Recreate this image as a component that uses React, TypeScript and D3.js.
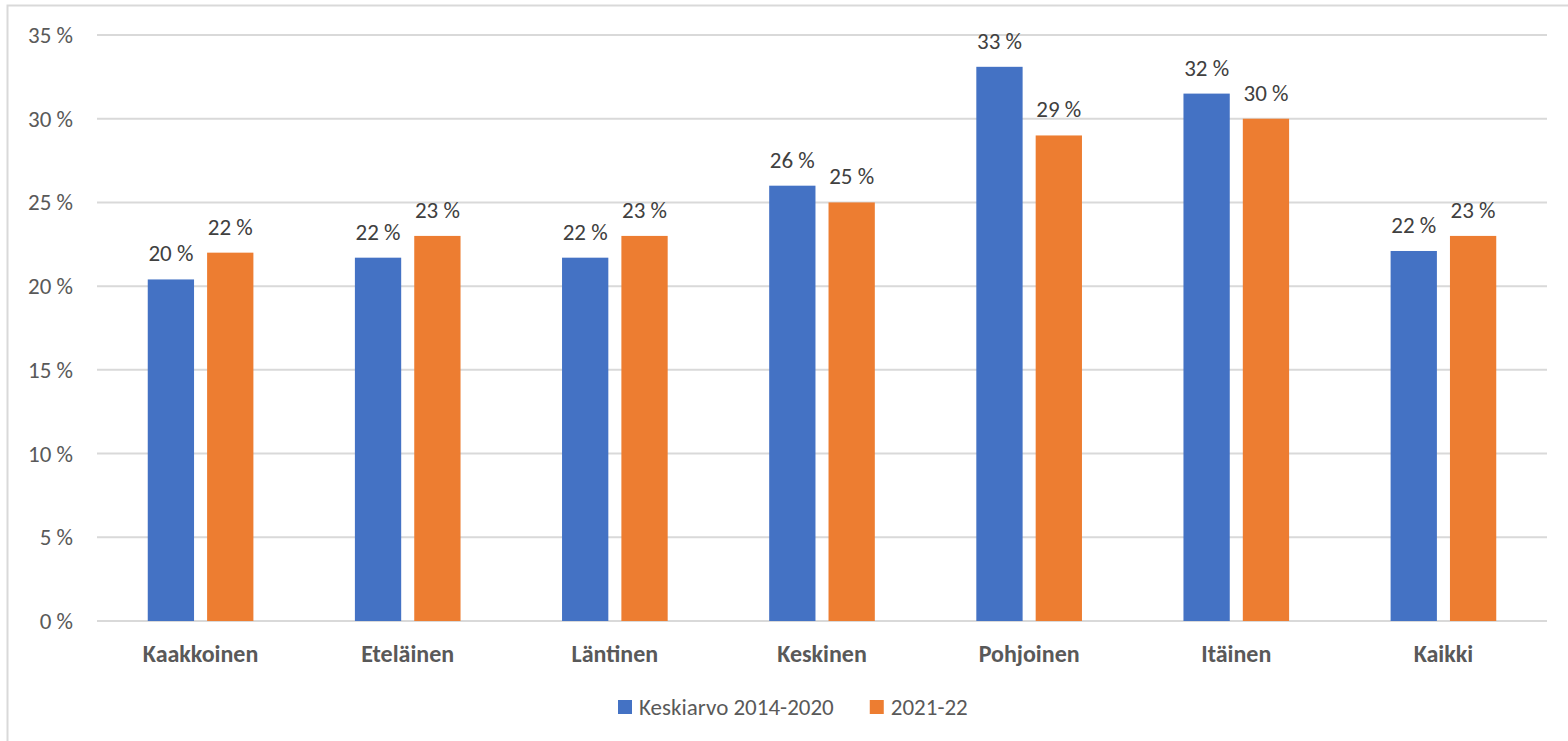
import React, { useEffect, useRef } from 'react';
import * as d3 from 'd3';

const regions = ['Kaakkoinen', 'Eteläinen', 'Läntinen', 'Keskinen', 'Pohjoinen', 'Itäinen', 'Kaikki'];
const seriesNames = ['Keskiarvo 2014-2020', '2021-22'];
const average2014to2020 = [20.4, 21.7, 21.7, 26.0, 33.1, 31.5, 22.1];
const year2021to22 = [22.0, 23.0, 23.0, 25.0, 29.0, 30.0, 23.0];
const yTicks = [0, 5, 10, 15, 20, 25, 30, 35];
const colors = ['#4472C4', '#ED7D31'];

const FONT = 'Calibri, Carlito, "Open Sans", sans-serif';

const App: React.FC = () => {
    const ref = useRef<SVGSVGElement>(null);

    useEffect(() => {
        if (!ref.current) return;
        const svg = d3.select(ref.current);
        svg.selectAll('*').remove();

        const W = 1568, H = 741;
        const left = 97, right = 1547, top = 35, bottom = 621;

        // chart frame
        svg.append('rect')
            .attr('x', 7.5).attr('y', 5.5)
            .attr('width', W).attr('height', H)
            .attr('fill', '#fff')
            .attr('stroke', '#D9D9D9')
            .attr('stroke-width', 2);

        const y = d3.scaleLinear().domain([0, 35]).range([bottom, top]);
        const x0 = d3.scaleBand<string>()
            .domain(regions)
            .range([left, right])
            .paddingInner(0.49)
            .paddingOuter(0.245);
        const x1 = d3.scaleBand<string>()
            .domain(seriesNames)
            .range([0, x0.bandwidth()])
            .paddingInner(0.22);

        // grid lines
        svg.append('g')
            .selectAll('line')
            .data(yTicks)
            .join('line')
            .attr('x1', left).attr('x2', right)
            .attr('y1', d => y(d)).attr('y2', d => y(d))
            .attr('stroke', '#D9D9D9')
            .attr('stroke-width', 2);

        // y tick labels
        svg.append('g')
            .selectAll('text')
            .data(yTicks)
            .join('text')
            .attr('x', 73)
            .attr('y', d => y(d))
            .attr('dy', '0.35em')
            .attr('text-anchor', 'end')
            .attr('font-family', FONT)
            .attr('font-size', 23)
            .attr('fill', '#595959')
            .text(d => `${d}\u202F%`);

        const series = [average2014to2020, year2021to22];

        series.forEach((values, si) => {
            const g = svg.append('g');
            g.selectAll('rect')
                .data(values)
                .join('rect')
                .attr('x', (_, i) => (x0(regions[i]) ?? 0) + (x1(seriesNames[si]) ?? 0))
                .attr('y', d => y(d))
                .attr('width', x1.bandwidth())
                .attr('height', d => y(0) - y(d))
                .attr('fill', colors[si]);

            g.selectAll('text')
                .data(values)
                .join('text')
                .attr('x', (_, i) => (x0(regions[i]) ?? 0) + (x1(seriesNames[si]) ?? 0) + x1.bandwidth() / 2)
                .attr('y', d => y(d) - 18)
                .attr('text-anchor', 'middle')
                .attr('font-family', FONT)
                .attr('font-size', 23)
                .attr('fill', '#404040')
                .text(d => `${Math.round(d)}\u202F%`);
        });

        // category labels
        svg.append('g')
            .selectAll('text')
            .data(regions)
            .join('text')
            .attr('x', d => (x0(d) ?? 0) + x0.bandwidth() / 2)
            .attr('y', 654)
            .attr('dy', '0.35em')
            .attr('text-anchor', 'middle')
            .attr('font-family', FONT)
            .attr('font-size', 24)
            .attr('font-weight', 'bold')
            .attr('fill', '#595959')
            .text(d => d);

        // legend
        const legend = svg.append('g').attr('transform', 'translate(618,707)');
        let offset = 0;
        seriesNames.forEach((name, i) => {
            const item = legend.append('g').attr('transform', `translate(${offset},0)`);
            item.append('rect')
                .attr('x', 0).attr('y', -7)
                .attr('width', 14).attr('height', 14)
                .attr('fill', colors[i]);
            const t = item.append('text')
                .attr('x', 21)
                .attr('dy', '0.35em')
                .attr('font-family', FONT)
                .attr('font-size', 23)
                .attr('fill', '#595959')
                .text(name);
            const w = (t.node() as SVGTextElement).getComputedTextLength();
            offset += 21 + w + 36;
        });
    }, []);

    return (
        <svg
            ref={ref}
            width={1568}
            height={741}
            style={{ position: 'absolute', left: 0, top: 0 }}
        />
    );
};

export default App;
